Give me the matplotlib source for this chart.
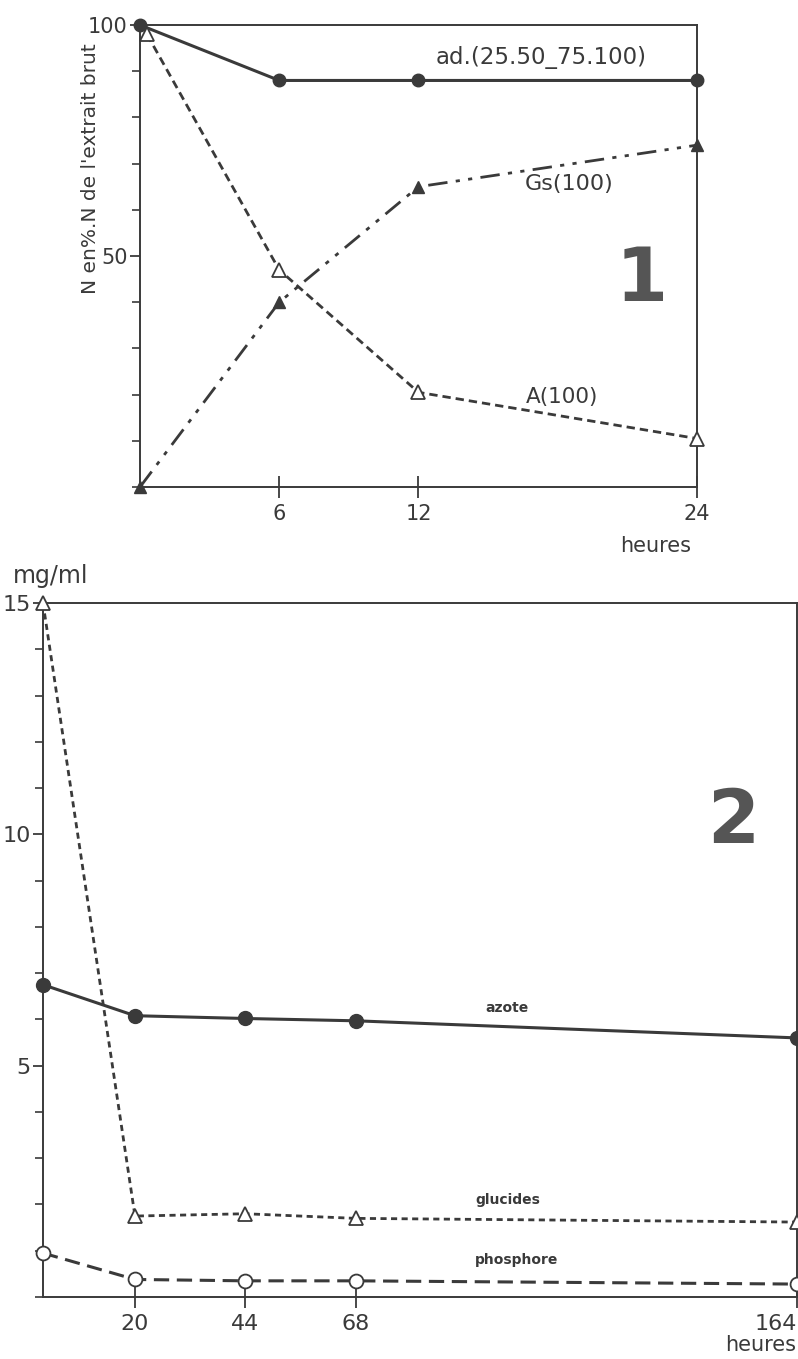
import numpy as np
import matplotlib
matplotlib.use("Agg")
import matplotlib.pyplot as plt
from matplotlib.ticker import MultipleLocator

plt.rcParams['font.family'] = ['DejaVu Sans']

# figure 1 : N en % du N de l'extrait brut
h1 = [0, 6, 12, 24]
ad = [100, 88, 88, 88]
gs = [0, 40, 65, 74]
h1_a = [0.3, 6, 12, 24]
a100 = [98, 47, 20.5, 10.5]

# figure 2 : mg/ml
h2 = [0, 20, 44, 68, 164]
azote = [6.75, 6.08, 6.02, 5.97, 5.6]
glucides = [15, 1.75, 1.8, 1.7, 1.62]
phosphore = [0.95, 0.38, 0.35, 0.35, 0.28]

ink = '#3a3a3a'

fig = plt.figure(figsize=(7.98, 13.59), dpi=100)

# ---- graphique 1
ax1 = fig.add_axes([0.1754, 0.6416, 0.698, 0.34])
ax1.plot(h1, ad, '-', color=ink, lw=2.2, marker='o', ms=9, clip_on=False, zorder=3)
ax1.plot(h1, gs, color=ink, lw=2.0, ls=(0, (7, 3, 1.5, 3, 1.5, 3)),
         marker='^', ms=8, mfc=ink, clip_on=False, zorder=3)
ax1.plot(h1_a, a100, color=ink, lw=2.0, ls=(0, (3, 1.8)),
         marker='^', ms=10, mfc='white', mec=ink, mew=1.3, clip_on=False, zorder=4)
ax1.set_xlim(0, 24)
ax1.set_ylim(0, 100)
ax1.set_xticks([6, 12, 24])
ax1.set_yticks([50, 100])
ax1.yaxis.set_minor_locator(MultipleLocator(10))
ax1.tick_params(axis='x', direction='inout', length=16, width=1.3, colors=ink,
                labelsize=15, pad=4)
ax1.tick_params(axis='y', which='major', direction='out', length=7, width=1.3,
                colors=ink, labelsize=15, pad=2)
ax1.tick_params(axis='y', which='minor', direction='out', length=6, width=1.2, colors=ink)
for s in ax1.spines.values():
    s.set_color(ink)
    s.set_linewidth(1.4)
ax1.set_ylabel("N en%.N de l'extrait brut", fontsize=14.5, color=ink)
ax1.yaxis.set_label_coords(-0.072, 0.69)
ax1.text(17.3, 92.9, "ad.(25.50_75.100)", fontsize=16.5, color=ink, ha='center', va='center')
ax1.text(18.5, 65.5, "Gs(100)", fontsize=16, color=ink, ha='center', va='center')
ax1.text(18.2, 19.5, "A(100)", fontsize=15.5, color=ink, ha='center', va='center')
ax1.text(21.6, 44.7, "1", fontsize=54, fontweight='bold', color='#555555',
         ha='center', va='center')
fig.text(0.822, 0.598, "heures", fontsize=15, color=ink, ha='center', va='center')

# ---- graphique 2
ax2 = fig.add_axes([0.0539, 0.0456, 0.945, 0.5107])
ax2.plot(h2, azote, '-', color=ink, lw=2.2, marker='o', ms=10, clip_on=False, zorder=3)
ax2.plot(h2, glucides, color=ink, lw=2.0, ls=(0, (2.2, 1.6)),
         marker='^', ms=10, mfc='white', mec=ink, mew=1.3, clip_on=False, zorder=3)
ax2.plot(h2, phosphore, color=ink, lw=2.2, ls=(0, (5, 2.5)),
         marker='o', ms=10, mfc='white', mec=ink, mew=1.3, clip_on=False, zorder=3)
ax2.set_xlim(0, 164)
ax2.set_ylim(0, 15)
ax2.set_xticks([20, 44, 68, 164])
ax2.set_yticks([5, 10, 15])
ax2.yaxis.set_minor_locator(MultipleLocator(1))
ax2.tick_params(axis='x', direction='inout', length=16, width=1.3, colors=ink,
                labelsize=16, pad=4)
ax2.tick_params(axis='y', which='major', direction='out', length=7, width=1.3,
                colors=ink, labelsize=16, pad=2)
ax2.tick_params(axis='y', which='minor', direction='out', length=6, width=1.2, colors=ink)
ax2.get_xticklabels()[-1].set_horizontalalignment('right')
for s in ax2.spines.values():
    s.set_color(ink)
    s.set_linewidth(1.4)
ax2.text(101, 6.25, "azote", fontsize=10, fontweight='bold', color=ink,
         ha='center', va='center')
ax2.text(101, 2.1, "glucides", fontsize=10, fontweight='bold', color=ink,
         ha='center', va='center')
ax2.text(103, 0.8, "phosphore", fontsize=10, fontweight='bold', color=ink,
         ha='center', va='center')
ax2.text(150, 10.25, "2", fontsize=54, fontweight='bold', color='#555555',
         ha='center', va='center')
fig.text(0.063, 0.576, "mg/ml", fontsize=17, color=ink, ha='center', va='center')
fig.text(0.998, 0.0103, "heures", fontsize=15, color=ink, ha='right', va='center')

fig.savefig("out.png", dpi=100)
